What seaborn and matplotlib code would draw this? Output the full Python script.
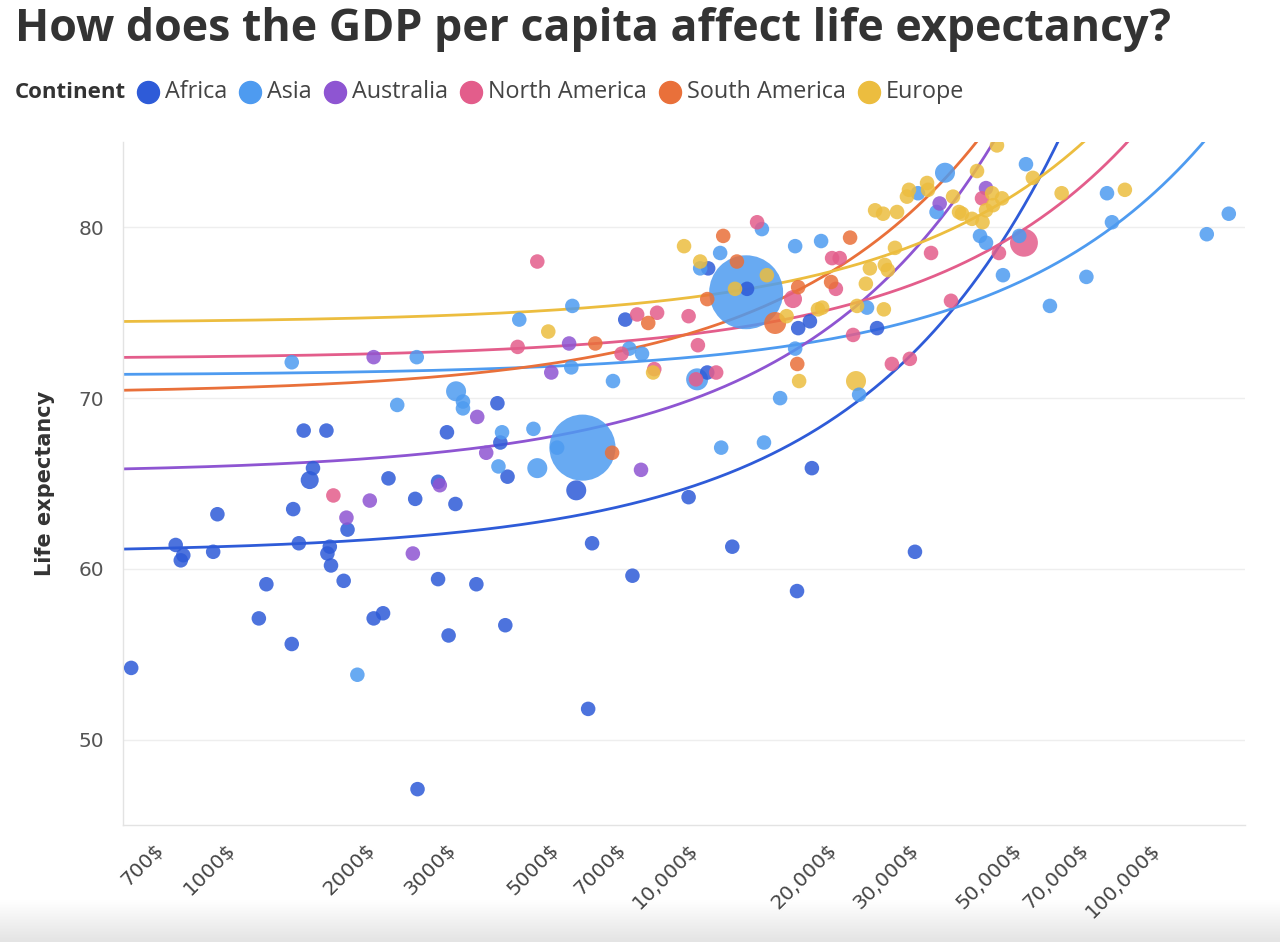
import numpy as np
import pandas as pd
import matplotlib
matplotlib.use("Agg")
import matplotlib.pyplot as plt
from matplotlib.lines import Line2D
import seaborn as sns

# ---------------- data ----------------
continents = ["Africa", "Asia", "Australia", "North America", "South America", "Europe"]
colors = ["#2E5BD8", "#4E9BF0", "#8E55D2", "#E35D8B", "#E9703A", "#ECBD3F"]

africa_gdp = [625, 780, 810, 800, 940, 960, 1180, 1225, 1390, 1400, 1440, 1475, 1520, 1545, 1652,
              1680, 1660, 1690, 1800, 1835, 2090, 2190, 2250, 2570, 2600, 2880, 2880, 3010, 3035, 3140,
              3485, 3870, 3927, 4025, 4070, 5730, 6080, 6200, 7313, 7580, 10025, 11000, 11050, 12460,
              13410, 17200, 17300, 18340, 18520, 25620, 30940]
africa_life = [54.2, 61.4, 60.8, 60.5, 61.0, 63.2, 57.1, 59.1, 55.6, 63.5, 61.5, 68.1, 65.2, 65.9, 68.1,
               61.3, 60.9, 60.2, 59.3, 62.3, 57.1, 57.4, 65.3, 64.1, 47.1, 59.4, 65.1, 68.0, 56.1, 63.8,
               59.1, 69.7, 67.4, 56.7, 65.4, 64.6, 51.8, 61.5, 74.6, 59.6, 64.2, 71.5, 77.6, 61.3,
               76.4, 58.7, 74.1, 74.5, 65.9, 74.1, 61.0]
africa_pop = [10, 10, 10, 10, 10, 10, 10, 10, 10, 10, 10, 10, 40, 10, 10,
              10, 10, 10, 10, 10, 10, 10, 10, 10, 10, 10, 10, 10, 10, 10,
              10, 10, 10, 10, 10, 60, 10, 10, 10, 10, 10, 10, 10, 10,
              10, 10, 10, 10, 10, 10, 10]

asia_gdp = [1390, 2590, 2350, 3150, 3260, 3260, 4315, 3960, 3890, 4630, 4720, 5620, 5590, 5910, 5210,
            6880, 7460, 7950, 14590, 11790, 15810, 23430, 24370, 17040, 11730, 17040, 19390, 14440,
            10620, 10460, 13350, 35930, 31400, 34450, 53770, 42770, 44070, 52000, 47950, 60583,
            72640, 80490, 82500, 132270, 147600, 1927]
asia_life = [72.1, 72.4, 69.6, 70.4, 69.8, 69.4, 74.6, 68.0, 66.0, 68.2, 65.9, 75.4, 71.8, 67.1, 67.1,
             71.0, 72.9, 72.6, 67.4, 67.1, 70.0, 70.2, 75.3, 72.9, 78.5, 78.9, 79.2, 79.9,
             77.6, 71.1, 76.2, 83.2, 82.0, 80.9, 83.7, 79.5, 79.1, 79.5, 77.2, 75.4,
             77.1, 82.0, 80.3, 79.6, 80.8, 53.8]
asia_pop = [10, 10, 10, 60, 10, 10, 10, 10, 10, 10, 60, 10, 10, 1110, 10,
            10, 10, 10, 10, 10, 10, 10, 10, 10, 10, 10, 10, 10,
            10, 82, 1400, 60, 10, 10, 10, 10, 10, 10, 10, 10,
            10, 10, 10, 10, 10, 10]

australia_gdp = [2090, 2540, 1825, 2050, 2905, 3500, 3660, 5060, 5530, 7910, 34990, 44070]
australia_life = [72.4, 60.9, 63.0, 64.0, 64.9, 68.9, 66.8, 71.5, 73.2, 65.8, 81.4, 82.3]
australia_pop = [10, 10, 10, 10, 10, 10, 10, 10, 10, 10, 10, 10]

namerica_gdp = [1710, 4720, 4280, 7760, 8570, 10025, 10500, 7180, 8450, 10400, 11500, 14100, 16860,
                20480, 21270, 20870, 22740, 27580, 30160, 33520, 43200, 47000, 53230, 37020]
namerica_life = [64.3, 78.0, 73.0, 74.9, 75.0, 74.8, 73.1, 72.6, 71.7, 71.1, 71.5, 80.3, 75.8,
                 78.2, 78.2, 76.4, 73.7, 72.0, 72.3, 78.5, 81.7, 78.5, 79.1, 75.7]
namerica_pop = [10, 10, 10, 10, 10, 10, 10, 10, 10, 10, 10, 10, 40,
                10, 10, 10, 10, 10, 10, 10, 10, 10, 160, 10]

samerica_gdp = [11910, 12750, 11000, 8200, 6300, 6850, 17300, 15424, 17220, 22400, 20380]
samerica_life = [79.5, 78.0, 75.8, 74.4, 73.2, 66.8, 76.5, 74.4, 72.0, 79.4, 76.8]
samerica_pop = [10, 10, 10, 10, 10, 10, 10, 82, 10, 10, 10]

europe_gdp = [4985, 9800, 10620, 12630, 14800, 16330, 19090, 17380, 23070, 23190, 24230, 24720, 26500,
              26630, 27030, 25370, 26400, 28300, 29730, 30030, 32860, 33030, 37400, 38530, 39110,
              42140, 46540, 45430, 47720, 45660, 44070, 41100, 43310, 55640, 64220, 87982, 28010,
              19490, 8400]
europe_life = [73.9, 78.9, 78.0, 76.4, 77.2, 74.8, 75.2, 71.0, 71.0, 75.4, 76.7, 77.6, 75.2,
               77.8, 77.5, 81.0, 80.8, 80.9, 81.8, 82.2, 82.6, 82.2, 81.8, 80.9, 80.8,
               83.3, 84.8, 82.0, 81.7, 81.3, 81.0, 80.5, 80.3, 82.9, 82.0, 82.2, 78.8,
               75.3, 71.5]
europe_pop = [10] * 8 + [60] + [10] * 30

# linear trend lines (life = intercept + slope * gdp), one per continent
trend_intercept = [60.93, 71.33, 65.6, 72.3, 70.25, 74.4]
trend_slope = [0.000382, 0.000105, 0.000424, 0.0001425, 0.000351, 0.000148]

xtick_values = [700, 1000, 2000, 3000, 5000, 7000, 10000, 20000, 30000, 50000, 70000, 100000]
xtick_labels = ["700$", "1000$", "2000$", "3000$", "5000$", "7000$", "10,000$", "20,000$",
                "30,000$", "50,000$", "70,000$", "100,000$"]
ytick_values = [50, 60, 70, 80]

title = "How does the GDP per capita affect life expectancy?"
legend_title = "Continent"
ylabel = "Life expectancy"

# ---------------- frames ----------------
groups = [(africa_gdp, africa_life, africa_pop), (asia_gdp, asia_life, asia_pop),
          (australia_gdp, australia_life, australia_pop), (namerica_gdp, namerica_life, namerica_pop),
          (samerica_gdp, samerica_life, samerica_pop), (europe_gdp, europe_life, europe_pop)]
frames = []
for name, (g, l, p) in zip(continents, groups):
    frames.append(pd.DataFrame({"gdp": g, "life": l, "pop": p, "continent": name}))
df = pd.concat(frames, ignore_index=True)
df = df.sort_values("pop", ascending=False, kind="stable")

grid = np.geomspace(602, 160000, 600)
tframes = []
for name, a, b in zip(continents, trend_intercept, trend_slope):
    y = a + b * grid
    keep = y <= 86
    tframes.append(pd.DataFrame({"gdp": grid[keep], "life": y[keep], "continent": name}))
tdf = pd.concat(tframes, ignore_index=True)

palette = dict(zip(continents, colors))

# ---------------- plot ----------------
sns.set_theme(style="white")
plt.rcParams["font.family"] = ["Open Sans", "DejaVu Sans"]

W, H = 1280, 942
fig = plt.figure(figsize=(W / 100, H / 100), dpi=100)
ax = fig.add_axes([123 / W, 1 - 825 / H, (1245 - 123) / W, (825 - 142) / H])

ax.set_xscale("log")
sns.lineplot(data=tdf, x="gdp", y="life", hue="continent", palette=palette, ax=ax,
             legend=False, estimator=None, linewidth=2.0, zorder=2)
sns.scatterplot(data=df, x="gdp", y="life", hue="continent", size="pop", sizes=(90, 2834),
                size_norm=(0, 1400), palette=palette, alpha=0.85, linewidth=0, legend=False,
                ax=ax, zorder=3)

ax.set_xlim(602, 160000)
ax.set_ylim(45, 85)

all_ticks = sorted(set([m * 10 ** e for e in (2, 3, 4) for m in range(1, 10)
                        if 600 <= m * 10 ** e <= 100000] + [100000]))
lab_map = dict(zip(xtick_values, xtick_labels))
ax.set_xticks(all_ticks)
ax.set_xticklabels([lab_map.get(t, "") for t in all_ticks], rotation=45, ha="right",
                   rotation_mode="anchor", va="top", family="DejaVu Sans")
ax.xaxis.set_minor_locator(matplotlib.ticker.NullLocator())
ax.set_yticks(ytick_values)
ax.set_yticklabels([str(v) for v in ytick_values], family="DejaVu Sans")

ax.tick_params(axis="x", length=9, width=1, color="#e0e0e0", labelsize=14.5, labelcolor="#444444", pad=2)
ax.tick_params(axis="y", length=9.5, width=1, color="#e6e6e6", labelsize=14.5, labelcolor="#555555", pad=4)
ax.yaxis.grid(True, color="#eeeeee", linewidth=1)
ax.xaxis.grid(False)
ax.set_axisbelow(True)
for s in ("top", "right"):
    ax.spines[s].set_visible(False)
for s in ("left", "bottom"):
    ax.spines[s].set_color("#e3e3e3")
    ax.spines[s].set_linewidth(1)
ax.set_xlabel("")
ax.set_ylabel("")

fig.text(45 / W, 1 - 483 / H, ylabel, rotation=90, ha="center", va="center",
         fontsize=15, fontweight="bold", color="#333333", family="DejaVu Sans")

fig.text(15 / W, 1 - 30 / H, title, ha="left", va="center", fontsize=32.2,
         fontweight="bold", color="#333333")

# legend row
renderer = fig.canvas.get_renderer()
ly = 1 - 92 / H
t = fig.text(15 / W, ly, legend_title, ha="left", va="center", fontsize=16,
             fontweight="bold", color="#333333")
x = t.get_window_extent(renderer).x1 + 11
for name, c in zip(continents, colors):
    fig.add_artist(Line2D([(x + 11) / W], [ly], transform=fig.transFigure, marker="o",
                          markersize=22 / 1.389, color=c, linestyle=""))
    tt = fig.text((x + 28) / W, ly, name, ha="left", va="center", fontsize=16.8, color="#444444")
    x = tt.get_window_extent(renderer).x1 + 12

# bottom screenshot shade
sh = fig.add_axes([0, 0, 1, 42 / H], zorder=-5)
grad = np.linspace(0, 1, 50).reshape(-1, 1)
sh.imshow(grad, aspect="auto", cmap=matplotlib.colors.LinearSegmentedColormap.from_list(
    "g", ["#e4e4e4", "#ffffff"]), extent=[0, 1, 0, 1], origin="lower")
sh.axis("off")

fig.savefig("out.png", dpi=100)
